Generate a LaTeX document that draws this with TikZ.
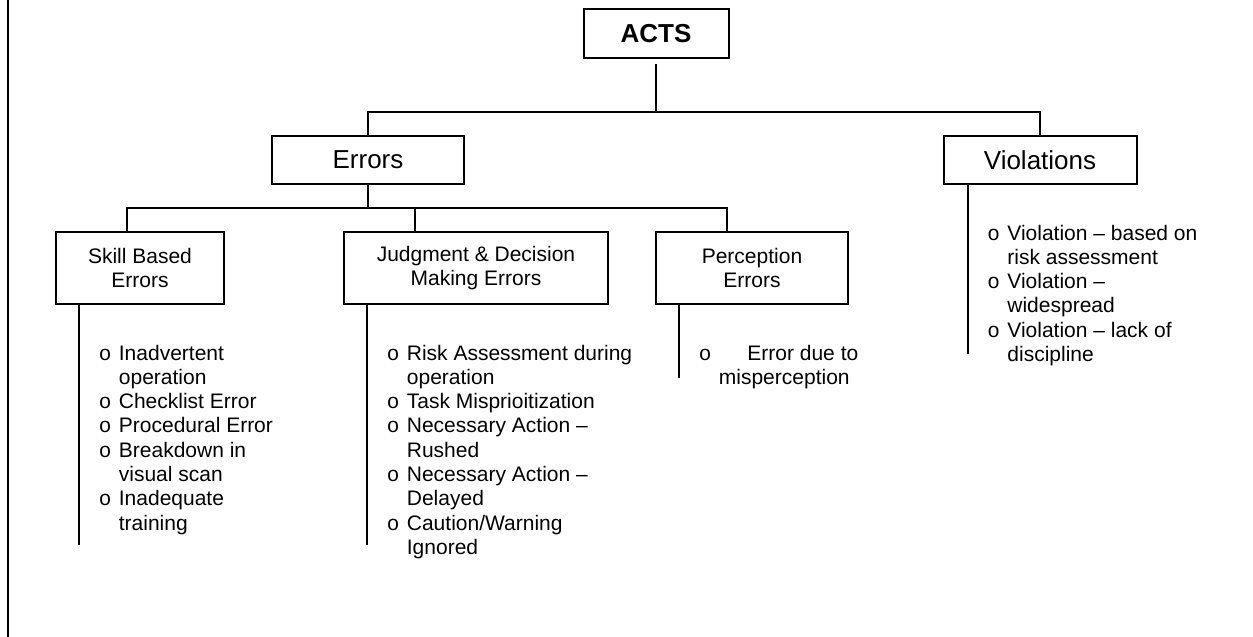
\documentclass[tikz,border=0pt]{standalone}
\usepackage{fontspec}
\setmainfont{Liberation Sans}
\newfontfamily\bulletfont{Liberation Mono}
\usetikzlibrary{calc}
\newcommand{\blt}{{\bulletfont o}}
\newcommand{\listfont}{\fontsize{10.5pt}{12.15pt}\selectfont}
\tikzset{
  box/.style={draw, line width=1pt, inner sep=0pt, align=center, font=\listfont},
  bigbox/.style={box, font=\fontsize{13pt}{15pt}\selectfont},
  conn/.style={line width=1pt},
  listtext/.style={inner sep=0pt, anchor=base west, font=\listfont, align=left},
}
\begin{document}
\begin{tikzpicture}[x=0.5pt, y=-0.5pt]
\useasboundingbox (0,0) rectangle (1253,637);
% left frame line
\draw[line width=1.3pt] (8,0) -- (8,637);

% boxes
\node[bigbox, minimum width=72.5pt, minimum height=24.5pt] (acts) at (656,33.5) {\textbf{ACTS}};
\node[bigbox, minimum width=96pt, minimum height=24pt] (errors) at (368,160) {Errors};
\node[bigbox, minimum width=96.5pt, minimum height=24pt] (viol) at (1040,160) {Violations};
\node[box, minimum width=84pt, minimum height=36pt] (skill) at (140,268) {Skill Based\\Errors};
\node[box, minimum width=132pt, minimum height=36pt] (judg) at (476,268) {Judgment \& Decision\\Making Errors};
\node[box, minimum width=96pt, minimum height=36pt] (perc) at (752,268) {Perception\\Errors};

% junctions
\coordinate (hub1) at (656,112);
\coordinate (hub2) at (368,208);
\coordinate (skillend) at ($(skill.south west)+(24,240)$);
\coordinate (judgend) at ($(judg.south west)+(24,240)$);
\coordinate (percend) at ($(perc.south west)+(24,73)$);
\coordinate (violend) at ($(viol.south west)+(25,169)$);

% connectors
\draw[conn] ($(acts.south)+(0,5)$) -- (hub1);
\draw[conn] (errors.north) |- (hub1) -| (viol.north);
\draw[conn] (errors.south) -- (hub2);
\draw[conn] ($(skill.north west)+(72,0)$) |- (hub2) -| ($(perc.north west)+(72,0)$);
\draw[conn] ($(judg.north west)+(72,0)$) |- (hub2);
\draw[conn] ($(skill.south west)+(24,0)$) -- (skillend);
\draw[conn] ($(judg.south west)+(24,0)$) -- (judgend);
\draw[conn] ($(perc.south west)+(24,0)$) -- (percend);
\draw[conn] ($(viol.south west)+(25,0)$) -- (violend);

% lists
\node[listtext] (skilllist) at (98.5,360) {\begin{tabular}[t]{@{}p{10pt}@{}l@{}}
\blt & Inadvertent\\
 & operation\\
\blt & Checklist Error\\
\blt & Procedural Error\\
\blt & Breakdown in\\
 & visual scan\\
\blt & Inadequate\\
 & training
\end{tabular}};

\node[listtext] (judglist) at (386.5,360) {\begin{tabular}[t]{@{}p{10pt}@{}l@{}}
\blt & Risk Assessment during\\
 & operation\\
\blt & Task Misprioitization\\
\blt & Necessary Action –\\
 & Rushed\\
\blt & Necessary Action –\\
 & Delayed\\
\blt & Caution/Warning\\
 & Ignored
\end{tabular}};

\node[listtext] (perclist) at (698.5,360) {\begin{tabular}[t]{@{}p{10pt}@{}l@{}}
\blt & \hspace*{14.25pt}Error due to\\
 & misperception
\end{tabular}};

\node[listtext] (viollist) at (987,240) {\begin{tabular}[t]{@{}p{10pt}@{}l@{}}
\blt & Violation – based on\\
 & risk assessment\\
\blt & Violation –\\
 & widespread\\
\blt & Violation – lack of\\
 & discipline
\end{tabular}};
\end{tikzpicture}
\end{document}
